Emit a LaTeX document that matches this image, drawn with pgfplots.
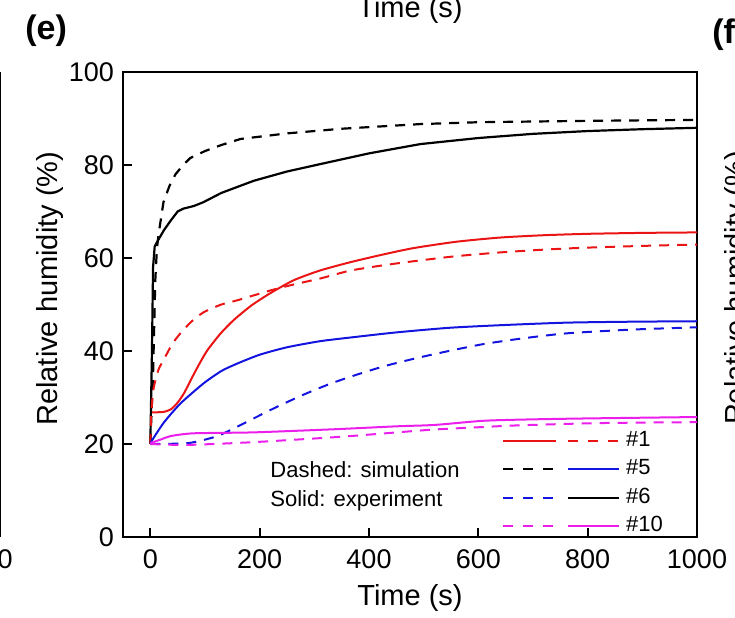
\documentclass[border=0pt]{standalone}
\usepackage{fontspec}
\setmainfont{Liberation Sans}
\usepackage{pgfplots}
\pgfplotsset{compat=1.18}
\definecolor{mred}{RGB}{235,20,20}
\definecolor{mblue}{RGB}{20,20,225}
\definecolor{mmag}{RGB}{235,30,235}
\begin{document}
\begin{tikzpicture}
\useasboundingbox (0,0) rectangle (367.5pt,308.5pt);
\clip (0,0) rectangle (367.5pt,308.5pt);
% fragments of neighbouring panels
\node[anchor=base, inner sep=0pt, font=\fontsize{14.5}{17}\selectfont] at (205pt,299.5pt) {Time (s)};
\node[anchor=west, inner sep=0pt, font=\fontsize{17}{20}\selectfont\bfseries] at (12.5pt,293pt) {(e)};
\node[anchor=west, inner sep=0pt, font=\fontsize{17}{20}\selectfont\bfseries] at (356pt,291pt) {(f)};
\node[anchor=east, inner sep=0pt, font=\fontsize{13.5}{16}\selectfont] at (6.5pt,29pt) {1000};
\draw[line width=0.8pt] (0.3pt,40pt) -- (0.3pt,272.5pt);
\node[anchor=north, rotate=90, inner sep=0pt, font=\fontsize{14.5}{17}\selectfont] at (362pt,164.5pt) {Relative humidity (\%)};
\begin{axis}[
  at={(61.5pt,40pt)}, anchor=south west, scale only axis,
  width=287pt, height=232.5pt,
  xmin=-50, xmax=1000, ymin=0, ymax=100,
  xtick={0,200,...,1000}, ytick={0,20,...,100},
  xtick pos=bottom, ytick pos=left,
  tick align=inside, major tick length=4.5pt,
  axis line style={line width=1pt}, tick style={line width=1pt, black},
  /pgf/number format/assume math mode=true,
  /pgf/number format/1000 sep={},
  ticklabel style={font=\fontsize{13.5}{16}\selectfont},
  xticklabel style={yshift=-3pt},
  yticklabel style={xshift=-1pt},
  xlabel={Time (s)}, ylabel={Relative humidity (\%)},
  label style={font=\fontsize{14.5}{17}\selectfont},
  xlabel style={at={(axis description cs:0.5,-0.131)}, anchor=center},
  ylabel style={at={(axis description cs:-0.127,0.534)}, anchor=center},
  legend style={at={(0.66,0.23)}, anchor=north west, draw=none, fill=none,
    inner sep=0pt, row sep=3.7pt,
    font=\fontsize{11}{13}\selectfont,
    nodes={inner sep=0pt, text height=8pt, text depth=2.5pt}},
  legend cell align=left,
  every axis plot/.append style={line width=1pt},
]
% #6 experiment (black solid)
\addplot[black, line width=1.1pt, forget plot] coordinates {
(0,20) (3,40) (5,58) (8,62.5) (15,64) (25,66) (37,68) (50,70) (60,70.6) (80,71.2) (97,72) (130,74) (189,76.6) (250,78.6) (311,80.2) (400,82.5) (494,84.5) (600,85.8) (700,86.7) (800,87.3) (900,87.7) (1000,88)};
% #6 simulation (black dashed)
\addplot[black, line width=1.1pt, dash pattern=on 5pt off 4pt, forget plot] coordinates {
(0,20) (5,35) (9,55) (12,62) (15,65) (24,72) (35,75.5) (46,78) (60,80) (73,81.5) (100,83) (130,84.3) (165,85.6) (250,86.8) (350,87.8) (494,88.8) (600,89.2) (800,89.5) (1000,89.7)};
% #1 experiment (red solid)
\addplot[mred, smooth, tension=0.4, forget plot] coordinates {
(3,26.8) (24,26.9) (38,27.5) (50,28.9) (62,31) (75,34) (90,37.3) (104,40.1) (128,43.7) (152,46.6) (185,49.8) (219,52.4) (262,55.2) (310,57.3) (366,59.1) (420,60.6) (480,62.1) (560,63.5) (640,64.4) (720,64.9) (800,65.2) (900,65.4) (1000,65.5)};
% #1 simulation (red dashed)
\addplot[mred, dash pattern=on 5pt off 4pt, smooth, tension=0.4, forget plot] coordinates {
(0,20) (2,27) (6,32) (15,36) (24,38) (40,41.5) (55,43.8) (75,46.3) (97,48.3) (130,50) (159,50.9) (219,53) (262,54.3) (311,55.6) (366,57.3) (430,58.5) (488,59.4) (560,60.4) (640,61.2) (720,61.8) (792,62.2) (900,62.6) (1000,62.9)};
% #5 experiment (blue solid)
\addplot[mblue, smooth, tension=0.4, forget plot] coordinates {
(0,20.2) (24,24.5) (55,28.7) (97,33) (130,35.7) (159,37.3) (200,39.2) (250,40.8) (310,42.1) (366,42.9) (450,44) (548,45) (650,45.6) (762,46.1) (880,46.3) (1000,46.4)};
% #5 simulation (blue dashed)
\addplot[mblue, dash pattern=on 5pt off 4pt, smooth, tension=0.4, forget plot] coordinates {
(0,20) (70,20.2) (120,21.6) (150,23.2) (189,25.5) (230,27.9) (280,30.6) (330,33) (380,35) (430,36.8) (488,38.5) (550,40.1) (610,41.5) (680,42.7) (762,43.8) (880,44.6) (1000,45.1)};
% #10 experiment (magenta solid)
\addplot[mmag, smooth, tension=0.4, forget plot] coordinates {
(0,20.2) (20,21) (37,21.7) (79,22.3) (189,22.5) (342,23.2) (450,23.8) (520,24.1) (610,25) (700,25.3) (800,25.5) (1000,25.8)};
% #10 simulation (magenta dashed)
\addplot[mmag, dash pattern=on 5pt off 4pt, smooth, tension=0.4, forget plot] coordinates {
(0,20) (67,19.8) (189,20.4) (342,21.5) (430,22.3) (517,23.1) (600,23.6) (671,24) (823,24.5) (1000,24.7)};
% legend as in the original figure
\addlegendimage{legend image code/.code={
  \draw[mred, line width=1pt] (0pt,0pt) -- (26.5pt,0pt);
  \draw[mred, line width=1pt, dash pattern=on 5pt off 5pt] (32.5pt,0pt) -- (58pt,0pt);
  \path (61pt,0pt);}}
\addlegendentry{\#1}
\addlegendimage{legend image code/.code={
  \draw[black, line width=1pt, dash pattern=on 5pt off 5pt] (0pt,0pt) -- (26.5pt,0pt);
  \draw[mblue, line width=1pt] (32.5pt,0pt) -- (58pt,0pt);
  \path (61pt,0pt);}}
\addlegendentry{\#5}
\addlegendimage{legend image code/.code={
  \draw[mblue, line width=1pt, dash pattern=on 5pt off 5pt] (0pt,0pt) -- (26.5pt,0pt);
  \draw[black, line width=1pt] (32.5pt,0pt) -- (58pt,0pt);
  \path (61pt,0pt);}}
\addlegendentry{\#6}
\addlegendimage{legend image code/.code={
  \draw[mmag, line width=1pt, dash pattern=on 5pt off 5pt] (0pt,0pt) -- (26.5pt,0pt);
  \draw[mmag, line width=1pt] (32.5pt,0pt) -- (58pt,0pt);
  \path (61pt,0pt);}}
\addlegendentry{\#10}
\node[anchor=base west, inner sep=0pt, font=\fontsize{11}{13}\selectfont] at (axis cs:219,12.7) {Dashed: simulation};
\node[anchor=base west, inner sep=0pt, font=\fontsize{11}{13}\selectfont] at (axis cs:219,6.65) {Solid: experiment};
\end{axis}
\end{tikzpicture}
\end{document}
